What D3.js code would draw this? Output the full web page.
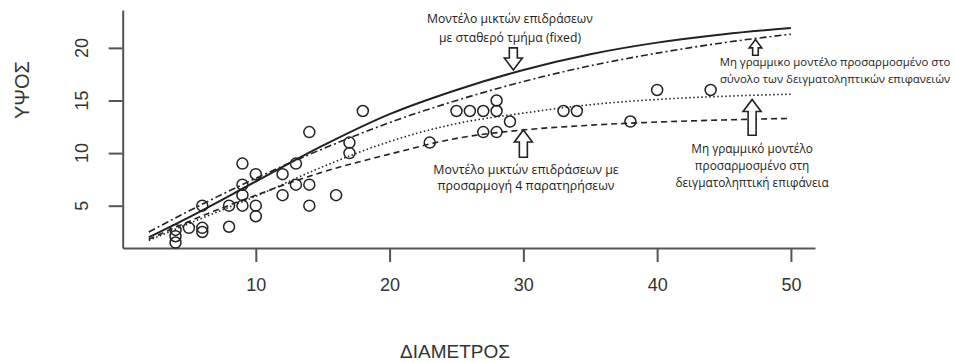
<!DOCTYPE html>
<html><head><meta charset="utf-8">
<script src="https://cdn.jsdelivr.net/npm/d3@7"></script>
<style>
body{margin:0;background:#fff;}
svg{display:block;}
</style></head>
<body>
<svg id="chart" width="955" height="363"></svg>
<script>
// observed points
const diameter = [4,4,4,5,6,6,6,8,8,9,9,9,9,10,10,10,12,12,13,13,14,14,14,16,17,17,18,23,25,26,27,27,28,28,28,29,33,34,38,40,44];
const height   = [1.5,2.1,2.7,2.9,2.5,2.9,5,3,5,5,6,7,9,4,5,8,6,8,7,9,5,7,12,6,10,11,14,11,14,14,12,14,12,14,15,13,14,14,13,16,16];

// fitted curves
const curveD      = [2,5,10,15,20,25,30,35,40,45,50];
const fixedModel  = [2.0,3.9,7.3,10.7,13.7,16.0,17.9,19.4,20.5,21.3,21.9];   // solid
const nlsAll      = [2.5,4.5,7.6,10.4,12.9,15.0,16.8,18.3,19.5,20.5,21.3];   // dash-dot
const mixed4      = [1.7,3.3,5.9,8.7,11.1,12.8,13.8,14.6,15.1,15.4,15.6];    // dotted
const nlsPlot     = [1.8,3.5,6.0,8.2,9.9,11.4,12.2,12.65,12.95,13.15,13.3];  // dashed

const xTicks = [10,20,30,40,50];
const yTicks = [5,10,15,20];
const xTitle = "ΔΙΑΜΕΤΡΟΣ";
const yTitle = "ΥΨΟΣ";

// annotations (data units)
const noteText = [
  ["Μοντέλο μικτών επιδράσεων","με σταθερό τμήμα (fixed)"],
  ["Μη γραμμικο μοντέλο προσαρμοσμένο στο","σύνολο των δειγματοληπτικών επιφανειών"],
  ["Μοντέλο μικτών επιδράσεων με","προσαρμογή 4 παρατηρήσεων"],
  ["Μη γραμμικό μοντέλο","προσαρμοσμένο στη","δειγματοληπτική επιφάνεια"]
];
const noteSize = [12.2, 11.4, 12.4, 11.8];
const noteX = [29.0, 53.3, 30.2, 47.1];
const noteY = [[22.4,20.6],[18.3,16.7],[8.05,6.45],[10.0,8.4,6.8]];
// arrows: x, tip value, tail value
const arrowX    = [29.25, 47.35, 30.0, 47.1];
const arrowTip  = [17.9, 20.8, 12.2, 15.1];
const arrowTail = [20.0, 19.3, 9.6, 11.7];
const arrowScale= [1, 0.7, 1, 1];

const svg = d3.select("#chart");
const x = d3.scaleLinear().domain([0.05, 51.8]).range([122.7, 815]);
const y = d3.scaleLinear().domain([0.98, 23.6]).range([248, 10]);

const axisCol = "#555";
const textCol = "#333";
const axFont = "Liberation Sans, Arial, sans-serif";

// axes (L shaped)
const xAxis = svg.append("g").attr("transform","translate(0,248)")
  .call(d3.axisBottom(x).tickValues(xTicks).tickSize(14).tickPadding(16).tickSizeOuter(0));
const yAxis = svg.append("g").attr("transform","translate(122.7,0)")
  .call(d3.axisLeft(y).tickValues(yTicks).tickSize(14).tickSizeOuter(0).tickFormat(""));
[xAxis,yAxis].forEach(g=>{
  g.select(".domain").attr("stroke",axisCol).attr("stroke-width",2);
  g.selectAll(".tick line").attr("stroke",axisCol).attr("stroke-width",2);
});
xAxis.selectAll(".tick text").attr("fill",textCol).style("font-family",axFont).style("font-size","18px").attr("dy","0.71em");

// rotated y tick labels
svg.append("g").selectAll("text").data(yTicks).join("text")
  .attr("transform",d=>"translate(88," + y(d) + ") rotate(-90)")
  .attr("text-anchor","middle")
  .attr("fill",textCol).style("font-family",axFont).style("font-size","18px")
  .text(d=>d);

svg.append("text").attr("x",455).attr("y",358).attr("text-anchor","middle")
  .attr("fill",textCol).style("font-family",axFont).style("font-size","19px")
  .text(xTitle);
svg.append("text").attr("transform","translate(29,90) rotate(-90)").attr("text-anchor","middle")
  .attr("fill",textCol).style("font-family",axFont).style("font-size","20px")
  .text(yTitle);

// curves
const line = d3.line().x((d,i)=>x(curveD[i])).y(d=>y(d)).curve(d3.curveMonotoneX);
const curves = [
  {v:fixedModel, dash:null, w:2},
  {v:nlsAll, dash:"7,3,2,3", w:1.6},
  {v:mixed4, dash:"1.5,2.5", w:1.6},
  {v:nlsPlot, dash:"6,4", w:1.6}
];
curves.forEach(c=>{
  svg.append("path").attr("d",line(c.v)).attr("fill","none")
    .attr("stroke","#222").attr("stroke-width",c.w)
    .attr("stroke-dasharray",c.dash);
});

// points
svg.append("g").selectAll("circle").data(diameter).join("circle")
  .attr("cx",d=>x(d)).attr("cy",(d,i)=>y(height[i])).attr("r",5.5)
  .attr("fill","none").attr("stroke","#222").attr("stroke-width",1.5);

// arrows (hollow block arrows)
arrowX.forEach((ax,i)=>{
  const cx = x(ax), tip = y(arrowTip[i]), tail = y(arrowTail[i]);
  const s = arrowScale[i];
  const dir = tail > tip ? 1 : -1;
  const hw = 9*s, sw = 4*s, hl = 12*s*dir;
  const pts = [
    [cx, tip],[cx+hw, tip+hl],[cx+sw, tip+hl],[cx+sw, tail],
    [cx-sw, tail],[cx-sw, tip+hl],[cx-hw, tip+hl]
  ];
  svg.append("path").attr("d","M"+pts.map(p=>p.join(",")).join("L")+"Z")
    .attr("fill","#fff").attr("stroke","#222").attr("stroke-width",1.6).attr("stroke-linejoin","miter");
});

// annotation texts
noteText.forEach((lines,i)=>{
  lines.forEach((t,j)=>{
    svg.append("text").attr("x",x(noteX[i])).attr("y",y(noteY[i][j]))
      .attr("text-anchor","middle").attr("fill","#222")
      .style("font-family","Open Sans, sans-serif").style("font-size",noteSize[i]+"px")
      .text(t);
  });
});
</script>
</body></html>
